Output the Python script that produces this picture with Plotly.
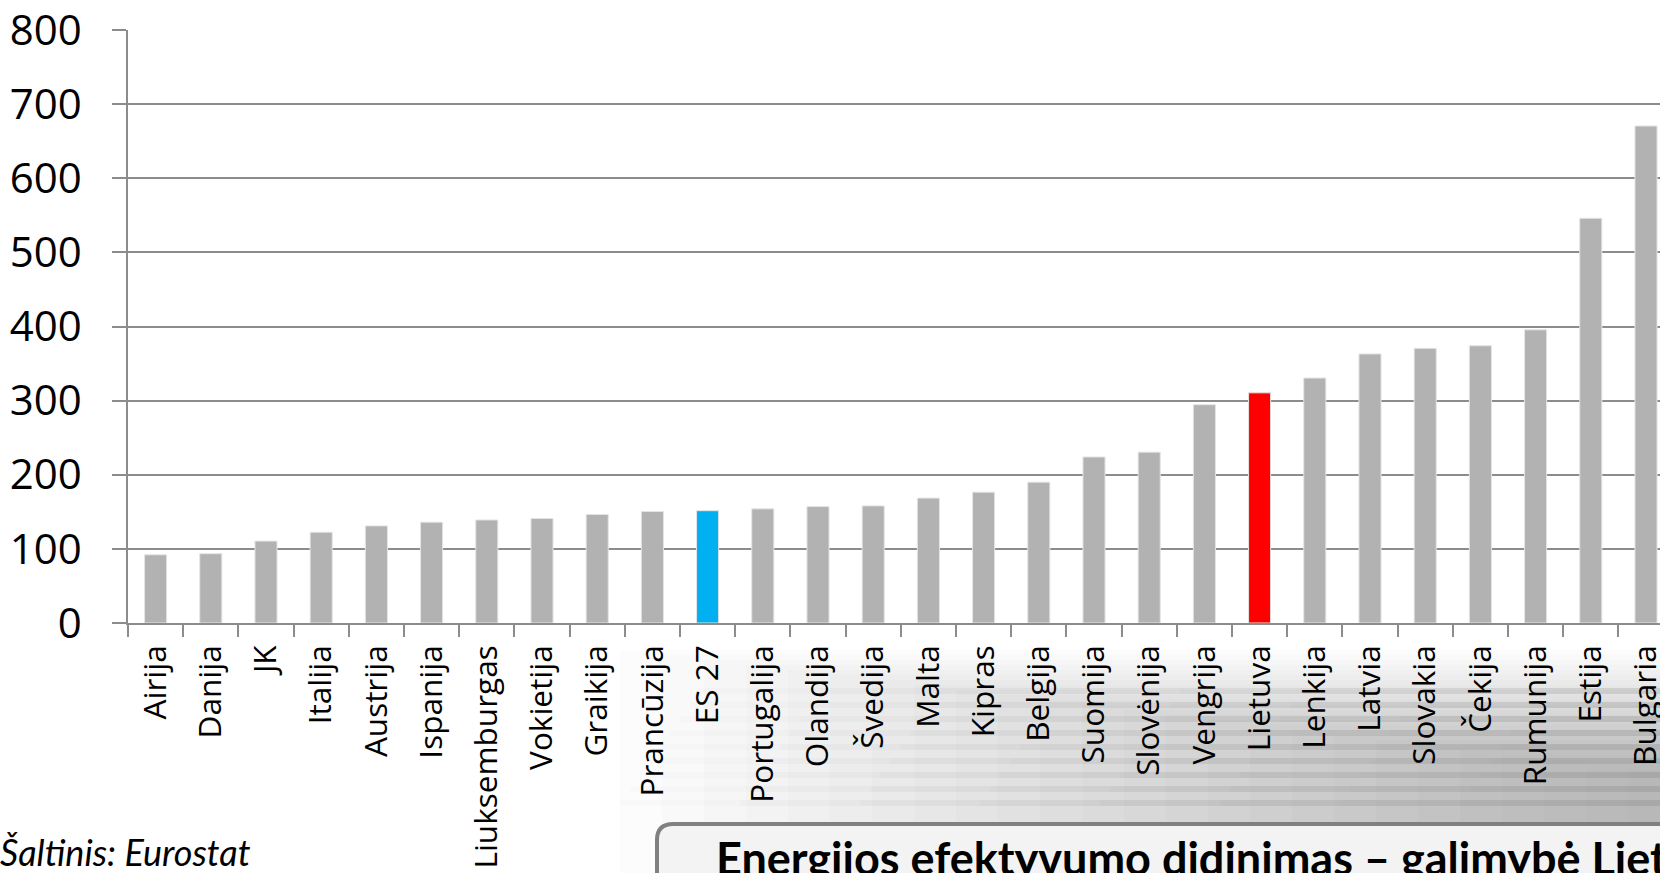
import plotly.graph_objects as go

# ---- data ----
countries = ["Airija", "Danija", "JK", "Italija", "Austrija", "Ispanija",
             "Liuksemburgas", "Vokietija", "Graikija", "Prancūzija", "ES 27",
             "Portugalija", "Olandija", "Švedija", "Malta", "Kipras", "Belgija",
             "Suomija", "Slovėnija", "Vengrija", "Lietuva", "Lenkija", "Latvia",
             "Slovakia", "Čekija", "Rumunija", "Estija", "Bulgaria"]
values = [92, 93.5, 110.5, 122.5, 131, 136, 139, 141, 146.5, 150.5, 151.5,
          154, 157, 158, 168.5, 176.5, 190, 224, 230.5, 294.5, 310.5, 330.5,
          363, 370.5, 374, 395.5, 546, 670.5]
y_ticks = [0, 100, 200, 300, 400, 500, 600, 700, 800]
source_text = "Šaltinis: Eurostat"
banner_text = "Energijos efektyvumo didinimas – galimybė Lietuvai"

GREY = "#b2b2b2"
EU_COLOR = "#00b0f0"
LT_COLOR = "#ff0000"
colors = [EU_COLOR if c == "ES 27" else LT_COLOR if c == "Lietuva" else GREY
          for c in countries]

W, H = 1660, 873
ML, MR, MT, MB = 128, 0, 30, 250
PW, PH = W - ML - MR, H - MT - MB
CAT_W = 55.2


def px_x(px):
    return (px - ML) / PW


def px_y(py):
    return (H - MB - py) / PH


fig = go.Figure(go.Bar(
    x=countries, y=values,
    marker=dict(color=colors, line=dict(color="#e4e4e4", width=1)),
    width=0.4,
))

shapes = []
# soft grey background shading behind the lower-right labels
for k in range(25):
    shapes.append(dict(
        type="rect", xref="paper", yref="paper", layer="below",
        x0=px_x(620 + k * 42), x1=px_x(W + 10),
        y0=px_y(650 + k * 5), y1=px_y(H + 10),
        line=dict(width=0), fillcolor="rgba(80,80,80,0.017)",
    ))
# faint horizontal streaks, fading in towards the right
for k in range(9):
    yy = 688 + k * 14
    for j in range(8):
        shapes.append(dict(
            type="rect", xref="paper", yref="paper", layer="below",
            x0=px_x(700 + j * 120 - k * 10), x1=px_x(W + 10),
            y0=px_y(yy), y1=px_y(yy + 6),
            line=dict(width=0), fillcolor="rgba(60,60,60,0.016)",
        ))

# banner with rounded top-left corner
bx0, by0, r = 657, 824, 16
x0p, y0p = px_x(bx0), px_y(by0)
path = (f"M {x0p} {px_y(H + 20)} L {x0p} {px_y(by0 + r)} "
        f"Q {x0p} {y0p} {px_x(bx0 + r)} {y0p} "
        f"L {px_x(W + 20)} {y0p} L {px_x(W + 20)} {px_y(H + 20)} Z")
shapes.append(dict(
    type="path", xref="paper", yref="paper", layer="above", path=path,
    line=dict(color="#808080", width=4), fillcolor="#f3f3f3",
))

fig.update_layout(
    width=W, height=H,
    margin=dict(l=ML, r=MR, t=MT, b=MB, pad=0, autoexpand=False),
    paper_bgcolor="white", plot_bgcolor="white",
    showlegend=False,
    bargap=0.6,
    shapes=shapes,
    xaxis=dict(
        type="category",
        automargin=False,
        range=[-0.5, -0.5 + PW / CAT_W],
        tickangle=-90,
        tickson="boundaries",
        ticks="outside", ticklen=12, tickwidth=1.5, tickcolor="#8c8c8c",
        showline=True, linecolor="#8c8c8c", linewidth=1.5,
        showgrid=False,
        tickfont=dict(family="Open Sans", size=31.5, color="black"),
        ticklabelstandoff=8,
        ticklabeloverflow="allow",
    ),
    yaxis=dict(
        automargin=False,
        range=[0, 800],
        tickvals=y_ticks,
        ticks="outside", ticklen=14, tickwidth=1.5, tickcolor="#8c8c8c",
        showline=True, linecolor="#8c8c8c", linewidth=1.5,
        showgrid=True, gridcolor="#8c8c8c", gridwidth=1.5,
        zeroline=False,
        tickfont=dict(family="Open Sans", size=42, color="black"),
        ticklabelstandoff=22,
        ticklabeloverflow="allow",
    ),
    annotations=[
        dict(text=f"<i>{source_text}</i>", xref="paper", yref="paper",
             x=px_x(-2), y=px_y(H + 3), xanchor="left", yanchor="bottom",
             showarrow=False,
             font=dict(family="Lato", size=36, color="black")),
        dict(text=f"<b>{banner_text}</b>", xref="paper", yref="paper",
             x=px_x(714), y=px_y(829), xanchor="left", yanchor="top",
             showarrow=False,
             font=dict(family="Lato", size=45, color="black")),
    ],
)

fig.write_html("out.html")
